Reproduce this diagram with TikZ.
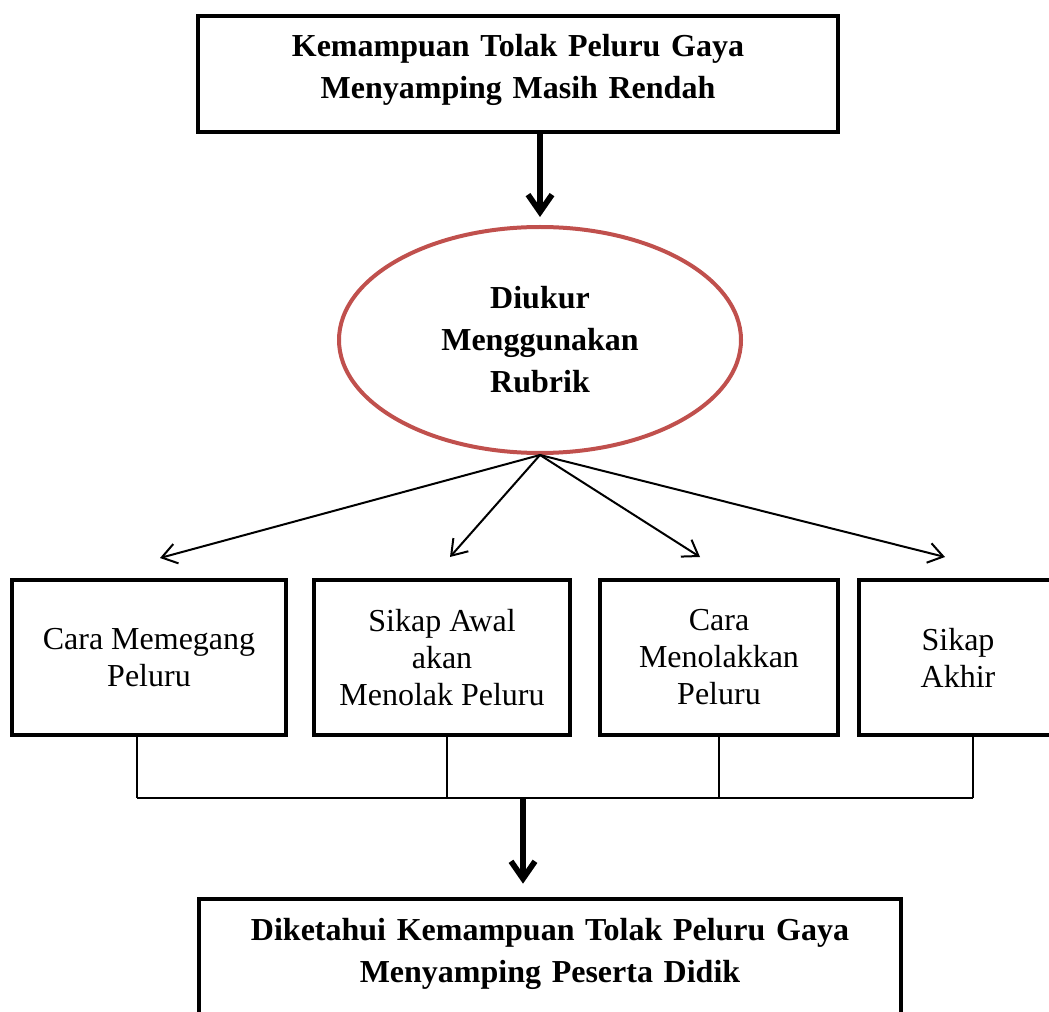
\documentclass[tikz,border=0pt]{standalone}
\usepackage{amsmath}
\usepackage{fontspec}
\setmainfont{Liberation Serif}
\usetikzlibrary{arrows.meta,shapes.geometric}
\definecolor{rubricred}{RGB}{192,80,77}

\tikzset{
  heading/.style={draw, line width=3.2pt, text width=#1, align=center, inner xsep=8pt, inner ysep=13pt, font=\fontsize{24}{31.5}\selectfont\bfseries},
  aspect/.style={draw, line width=3.2pt, minimum width=#1, minimum height=116pt, align=center, inner sep=2pt, font=\fontsize{24}{27.75}\selectfont},
  thinarrow/.style={line width=1.5pt, -{Straight Barb[length=11pt,width=15pt]}},
  thickarrow/.style={line width=4.3pt, -{Straight Barb[length=13pt,width=18pt]}},
  bus/.style={line width=1pt}
}

\begin{document}
\begin{tikzpicture}[x=0.75pt,y=0.75pt,yscale=-1,xscale=1]
\useasboundingbox (0,0) rectangle (1049,1012);

%Shape: Rectangle [problem]
\node[heading=464pt, anchor=north, text height=17pt, text depth=44pt] (problem) at (518,14) {Kemampuan Tolak Peluru Gaya\\ Menyamping Masih Rendah};
%Shape: Ellipse [rubric]
\node[ellipse, draw=rubricred, line width=3pt, minimum width=301.5pt, minimum height=169.5pt, inner sep=0pt, align=center, font=\fontsize{24}{31.5}\selectfont\bfseries] (rubric) at (540,340) {Diukur\\ Menggunakan\\ Rubrik};

%Shape: Rectangle [aspects]
\node[aspect=205pt] (hold) at (149,657.5) {Cara Memegang\\ Peluru};
\node[aspect=191.6pt] (stance) at (442,657.5) {Sikap Awal\\ akan\\ Menolak Peluru};
\node[aspect=178pt] (push) at (719,657.5) {Cara\\ Menolakkan\\ Peluru};
\node[aspect=148pt] (finish) at (958,657.5) {Sikap\\ Akhir};

%Shape: Rectangle [result]
\node[heading=510pt, anchor=north, text height=17.75pt, text depth=100pt] (result) at (550,897) {Diketahui Kemampuan Tolak Peluru Gaya\\ Menyamping Peserta Didik};

% arrow tips and bus points
\coordinate (tip1) at (160,558);
\coordinate (tip2) at (450,557);
\coordinate (tip3) at (700,557);
\coordinate (tip4) at (945,557);
\coordinate (j1) at (137,798);
\coordinate (j2) at (447,798);
\coordinate (j3) at (719,798);
\coordinate (j4) at (973,798);
\coordinate (jmid) at (523,798);

%Straight Lines
\draw[thickarrow, shorten >=6pt] (rubric.north |- problem.south) -- (rubric.north);
\foreach \t in {tip1,tip2,tip3,tip4}
  \draw[thinarrow] (rubric.south) -- (\t);

%Straight Lines [bus]
\foreach \b/\j in {hold/j1,stance/j2,push/j3,finish/j4}
  \draw[bus] (\j |- \b.south) -- (\j);
\draw[bus] (j1) -- (j4);
\draw[thickarrow, shorten >=10pt] (jmid) -- (jmid |- result.north);
\end{tikzpicture}
\end{document}
